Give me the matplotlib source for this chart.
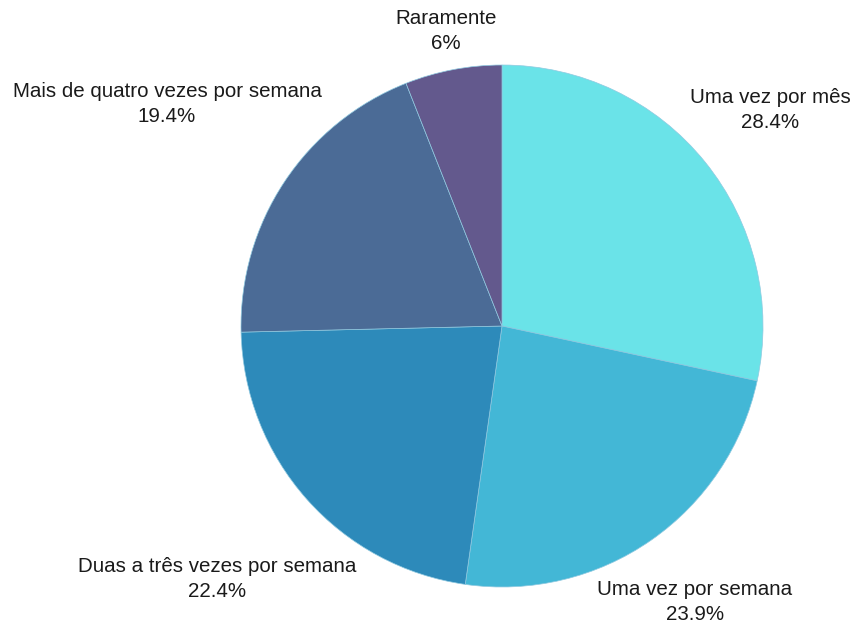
import matplotlib.pyplot as plt
import numpy as np

plt.rcParams['font.family'] = ['Liberation Sans', 'DejaVu Sans']

# dados
categorias = ['Uma vez por mês', 'Uma vez por semana', 'Duas a três vezes por semana',
              'Mais de quatro vezes por semana', 'Raramente']
valores = [28.4, 23.9, 22.4, 19.4, 6.0]
rotulos_pct = ['28.4%', '23.9%', '22.4%', '19.4%', '6%']
cores = ['#6ae3e8', '#43b7d6', '#2d8aba', '#4b6b96', '#63598d']

# distancia dos rotulos (em raios)
dist_rotulos = [1.32, 1.29, 1.46, 1.54, 1.15]

fig = plt.figure(figsize=(8.54, 6.24), dpi=100)
ax = fig.add_axes([0, 0, 1, 1])

centro = (502, 298)
raio = 261

wedges, _ = ax.pie(valores, colors=cores, startangle=90, counterclock=False,
                   center=centro, radius=raio, frame=True,
                   wedgeprops=dict(edgecolor='#8fc9e0', linewidth=0.5))
ax.set_xlim(0, 854)
ax.set_ylim(0, 624)
ax.set_aspect('equal')
ax.axis('off')

for w, cat, pct, d in zip(wedges, categorias, rotulos_pct, dist_rotulos):
    ang = np.deg2rad((w.theta1 + w.theta2) / 2)
    x = centro[0] + raio * d * np.cos(ang)
    y = centro[1] + raio * d * np.sin(ang)
    ax.text(x, y, cat + '\n' + pct, ha='center', va='center', fontsize=14.8,
            color='#1a1a1a', linespacing=1.4)

fig.savefig('out.png', dpi=100, facecolor='white')
